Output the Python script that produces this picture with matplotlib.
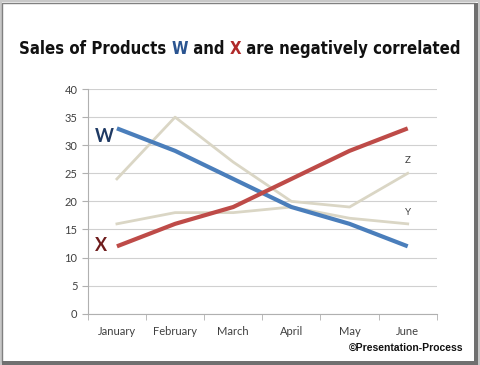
import matplotlib
matplotlib.use("Agg")
import matplotlib.pyplot as plt
from matplotlib.patches import Rectangle

# データ
months = ["January", "February", "March", "April", "May", "June"]
w_sales = [33, 29, 24, 19, 16, 12]
x_sales = [12, 16, 19, 24, 29, 33]
y_sales = [16, 18, 18, 19, 17, 16]
z_sales = [24, 35, 27, 20, 19, 25]
y_ticks = [0, 5, 10, 15, 20, 25, 30, 35, 40]

fig = plt.figure(figsize=(4.8, 3.65), dpi=100)
fig.patch.set_facecolor("white")
ax = fig.add_axes([0.183, 0.1405, 0.727, 0.6155])

pos = list(range(len(months)))
beige = "#DAD6C5"
ax.plot(pos, z_sales, color=beige, linewidth=2, zorder=2)
ax.plot(pos, y_sales, color=beige, linewidth=2, zorder=2)
ax.plot(pos, w_sales, color="#4A7EBB", linewidth=3, zorder=3, solid_capstyle="butt")
ax.plot(pos, x_sales, color="#BE4B48", linewidth=3, zorder=3, solid_capstyle="butt")

ax.set_xlim(-0.5, 5.5)
ax.set_ylim(0, 40)
ax.set_yticks(y_ticks)
ax.set_xticks(pos)
ax.set_xticklabels(months)
ax.set_xticks([p + 0.5 for p in range(-1, 6)], minor=True)
ax.grid(axis="y", color="#D0D0D0", linewidth=0.8)
ax.set_axisbelow(True)
for s in ["top", "right"]:
    ax.spines[s].set_visible(False)
for s in ["left", "bottom"]:
    ax.spines[s].set_color("#B0B0B0")
ax.tick_params(axis="x", which="major", length=0, pad=9, labelsize=8, labelcolor="#404040")
ax.tick_params(axis="x", which="minor", length=4, color="#B0B0B0")
ax.tick_params(axis="y", length=4, color="#B0B0B0", labelsize=8, labelcolor="#404040")
for lab in ax.get_xticklabels() + ax.get_yticklabels():
    lab.set_family(["Lato", "DejaVu Sans"])

# 系列ラベル
ax.text(-0.22, 31.5, "W", color="#1F3A64", fontsize=13, fontweight="bold", fontfamily="Lato", ha="center", va="center")
ax.text(-0.28, 12.2, "X", color="#6E1C1C", fontsize=13, fontweight="bold", fontfamily="Lato", ha="center", va="center")
ax.text(5.0, 27.3, "Z", color="#404040", fontsize=7, fontfamily="Lato", ha="center", va="center")
ax.text(5.0, 18.0, "Y", color="#404040", fontsize=7, fontfamily="Lato", ha="center", va="center")

# タイトル（色分け）
parts = [("Sales of Products ", "#111111"), ("W", "#2A5490"), (" and ", "#111111"),
         ("X", "#B02A2A"), (" are negatively correlated", "#111111")]
fam = ["DejaVu Sans"]
texts = [fig.text(0, 0.866, s, color=c, fontsize=15, fontweight="bold", fontstretch="condensed",
                  fontfamily=fam, va="center") for s, c in parts]
fig.canvas.draw()
r = fig.canvas.get_renderer()
total = sum(t.get_window_extent(r).width for t in texts)
scale = 444 / total
for t in texts:
    t.set_fontsize(15 * scale)
fig.canvas.draw()
widths = [t.get_window_extent(r).width / fig.bbox.width for t in texts]
x0 = 0.5 - sum(widths) / 2
for t, wd in zip(texts, widths):
    t.set_x(x0)
    x0 += wd

fig.text(0.965, 0.048, "\u00a9Presentation-Process", fontsize=7.5, fontweight="bold",
         fontfamily=["Liberation Sans", "DejaVu Sans"], ha="right", va="center", color="#111111")

# 枠線（外側の薄い灰色と右下の影）
fig.patches.append(Rectangle((0.0, 0.0), 1.0, 1.0, transform=fig.transFigure,
                             fill=False, edgecolor="#C8C8C8", linewidth=3))
fig.patches.append(Rectangle((0.005, 0.008), 0.985, 0.985, transform=fig.transFigure,
                             fill=False, edgecolor="#808080", linewidth=1.0))
fig.patches.append(Rectangle((0.988, 0.0), 0.008, 0.993, transform=fig.transFigure,
                             facecolor="#707070", edgecolor="none"))
fig.patches.append(Rectangle((0.005, 0.0), 0.99, 0.010, transform=fig.transFigure,
                             facecolor="#707070", edgecolor="none"))

fig.savefig("out.png", dpi=100)
